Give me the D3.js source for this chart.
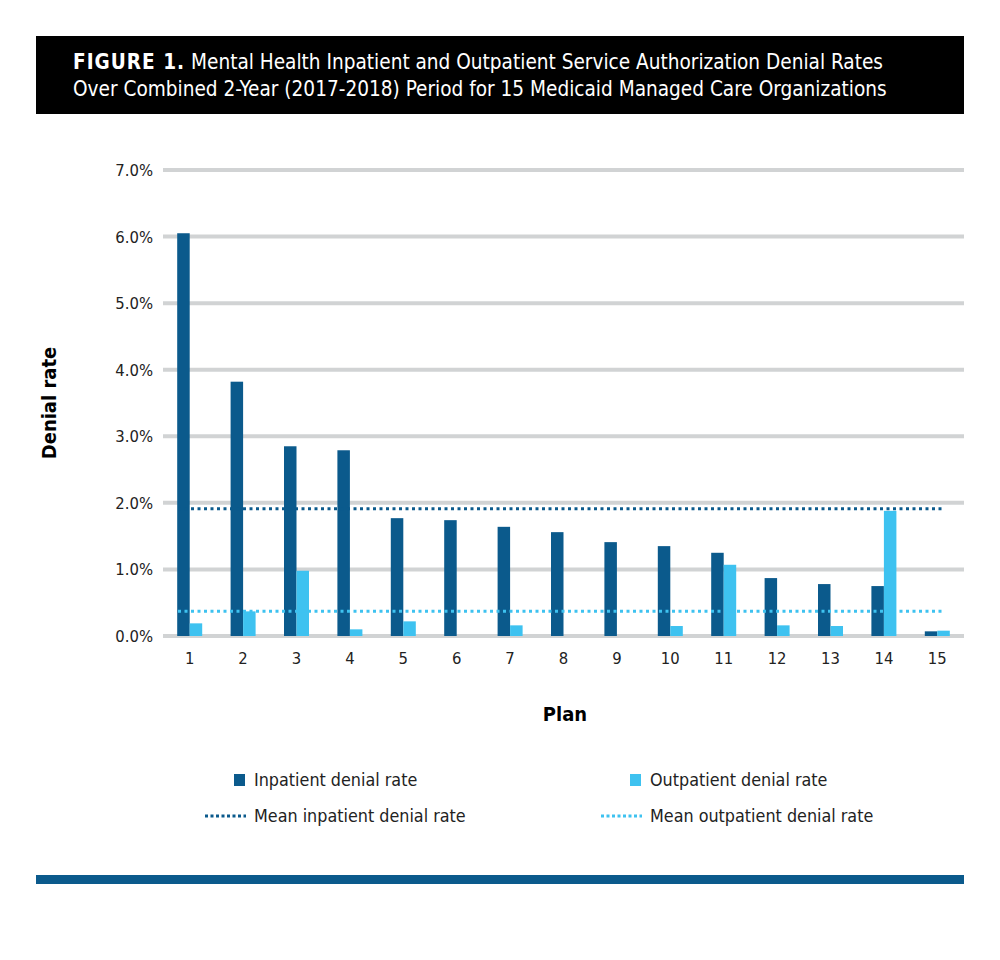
<!DOCTYPE html>
<html><head><meta charset="utf-8">
<script src="https://cdn.jsdelivr.net/npm/d3@7"></script>
<style>body{margin:0;background:#fff}text{font-family:"DejaVu Sans Condensed","Roboto Condensed","Liberation Sans Narrow",Roboto,sans-serif}</style>
</head><body><div id="chart"></div>
<script>
const plans = d3.range(1, 16).map(String);
const inpatient = [6.05,3.82,2.85,2.79,1.77,1.74,1.64,1.56,1.41,1.35,1.25,0.87,0.78,0.75,0.07];
const outpatient = [0.19,0.37,0.98,0.10,0.22,0,0.16,0,0,0.15,1.07,0.16,0.15,1.88,0.08];
const meanIn = 1.91, meanOut = 0.37;
const yTicks = [0,1,2,3,4,5,6,7];

const width = 1000, height = 960;
const blue = "#0b5a8c", light = "#3ec2f0";
const svg = d3.select("#chart").append("svg").attr("width", width).attr("height", height);

// header
svg.append("rect").attr("x",36).attr("y",36).attr("width",928).attr("height",78).attr("fill","#000");
const t1 = svg.append("text").attr("x",73).attr("y",69).attr("fill","#fff").style("font-size","20.6px");
t1.append("tspan").attr("font-weight","bold").attr("letter-spacing","1").text("FIGURE 1.");
t1.append("tspan").text(" Mental Health Inpatient and Outpatient Service Authorization Denial Rates");
svg.append("text").attr("x",73).attr("y",96).attr("fill","#fff").style("font-size","20.6px")
  .text("Over Combined 2-Year (2017-2018) Period for 15 Medicaid Managed Care Organizations");

const x = d3.scaleBand(plans, [163, 964]);
const y = d3.scaleLinear([0, 7], [636, 170]);

svg.append("g").selectAll("line").data(yTicks).join("line")
  .attr("x1",163).attr("x2",964).attr("y1",d=>y(d)).attr("y2",d=>y(d))
  .attr("stroke","#d1d3d4").attr("stroke-width",4);

svg.append("g").selectAll("text").data(yTicks).join("text")
  .attr("x",153).attr("y",d=>y(d)+6).attr("text-anchor","end")
  .style("font-size","16.5px").attr("fill","#222").text(d=>d.toFixed(1)+"%");

svg.append("g").selectAll("text").data(plans).join("text")
  .attr("x",d=>x(d)+x.bandwidth()/2).attr("y",664).attr("text-anchor","middle")
  .style("font-size","16.5px").attr("fill","#222").text(d=>d);

const bw = 12.5;
svg.append("g").selectAll("rect").data(plans).join("rect")
  .attr("x",d=>x(d)+x.bandwidth()/2-bw).attr("width",bw)
  .attr("y",(d,i)=>y(inpatient[i])).attr("height",(d,i)=>y(0)-y(inpatient[i])).attr("fill",blue);
svg.append("g").selectAll("rect").data(plans).join("rect")
  .attr("x",d=>x(d)+x.bandwidth()/2).attr("width",bw)
  .attr("y",(d,i)=>y(outpatient[i])).attr("height",(d,i)=>y(0)-y(outpatient[i])).attr("fill",light);

[[meanIn, blue],[meanOut, light]].forEach(([m,c])=>{
  svg.append("line").attr("x1",178).attr("x2",942).attr("y1",y(m)).attr("y2",y(m))
    .attr("stroke",c).attr("stroke-width",3).attr("stroke-dasharray","3,3.5");
});

svg.append("text").attr("transform","translate(56,403) rotate(-90)").attr("text-anchor","middle")
  .attr("font-weight","bold").style("font-size","20px").text("Denial rate");
svg.append("text").attr("x",565).attr("y",721).attr("text-anchor","middle")
  .attr("font-weight","bold").style("font-size","20px").text("Plan");

// legend
const leg = [
  {label:"Inpatient denial rate", c:blue, x:234, y:780, type:"rect"},
  {label:"Outpatient denial rate", c:light, x:630, y:780, type:"rect"},
  {label:"Mean inpatient denial rate", c:blue, x:234, y:816, type:"line"},
  {label:"Mean outpatient denial rate", c:light, x:630, y:816, type:"line"}
];
const lg = svg.append("g").selectAll("g").data(leg).join("g");
lg.filter(d=>d.type==="rect").append("rect").attr("x",d=>d.x).attr("y",d=>d.y-6).attr("width",11).attr("height",12).attr("fill",d=>d.c);
lg.filter(d=>d.type==="line").append("line").attr("x1",d=>d.x-29).attr("x2",d=>d.x+12).attr("y1",d=>d.y).attr("y2",d=>d.y)
  .attr("stroke",d=>d.c).attr("stroke-width",3).attr("stroke-dasharray","3,2.5");
lg.append("text").attr("x",d=>d.x+20).attr("y",d=>d.y+6).style("font-size","17.8px").attr("fill","#222").text(d=>d.label);

svg.append("rect").attr("x",36).attr("y",875).attr("width",928).attr("height",9).attr("fill","#0b5a8c");
</script></body></html>
